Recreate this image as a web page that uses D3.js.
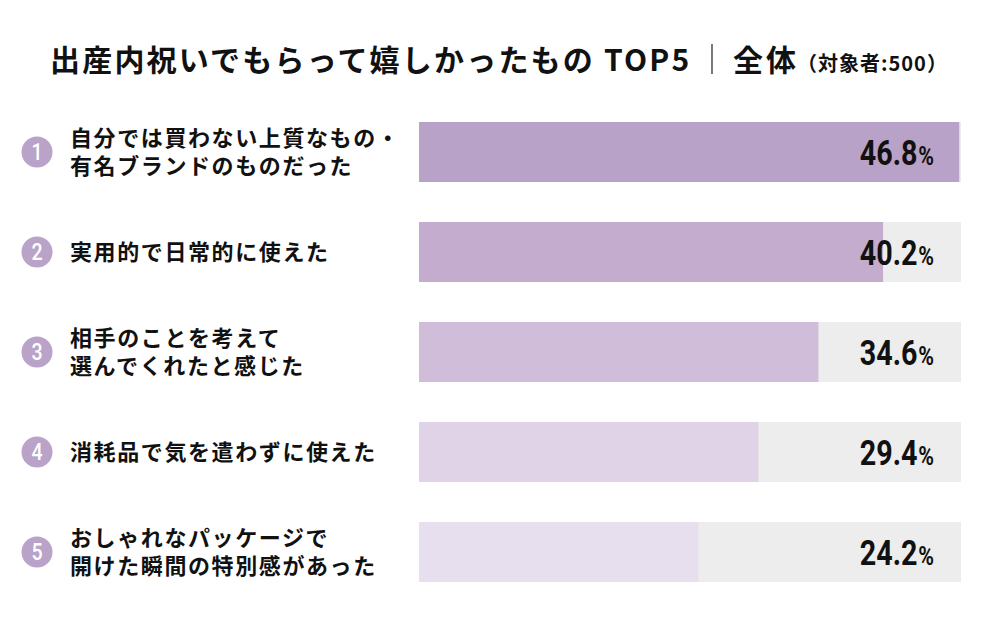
<!DOCTYPE html>
<html>
<head>
<meta charset="utf-8">
<script src="https://cdn.jsdelivr.net/npm/d3@7"></script>
<style>
  html, body { margin: 0; padding: 0; background: #fff; }
  svg { display: block; font-family: "Noto Sans CJK JP", "Noto Sans", sans-serif; }
</style>
</head>
<body>
<svg id="chart"></svg>
<script>
const ranks = [1, 2, 3, 4, 5];
const labels = [
	['自分では買わない上質なもの・', '有名ブランドのものだった'],
	['実用的で日常的に使えた'],
	['相手のことを考えて', '選んでくれたと感じた'],
	['消耗品で気を遣わずに使えた'],
	['おしゃれなパッケージで', '開けた瞬間の特別感があった']
];
const values = [46.8, 40.2, 34.6, 29.4, 24.2];
const barColors = ['#b9a2c8', '#c4accf', '#cfbdda', '#e0d3e7', '#e8dfee'];

const W = 1000, H = 619;
const svg = d3.select('#chart').attr('width', W).attr('height', H);

// title
svg.append('text')
	.attr('x', 50)
	.attr('y', 71)
	.attr('font-weight', 700)
	.attr('font-size', 30)
	.attr('letter-spacing', 2.2)
	.attr('fill', '#111')
	.text('出産内祝いでもらって嬉しかったもの TOP5');
svg.append('line')
	.attr('x1', 712).attr('x2', 712)
	.attr('y1', 44).attr('y2', 74)
	.attr('stroke', '#222').attr('stroke-width', 1.2);
svg.append('text')
	.attr('x', 733).attr('y', 71)
	.attr('font-weight', 700).attr('fill', '#111')
	.call(t => {
		t.append('tspan').attr('font-size', 30).attr('letter-spacing', 3).text('全体');
		t.append('tspan').attr('font-size', 20).attr('letter-spacing', 1).attr('dx', -2).text('（対象者:500）');
	});

// scale max a hair above the top value so the first bar nearly fills the track
const x = d3.scaleLinear().domain([0, 46.95]).range([419, 961]);
const y = d3.scaleBand().domain(ranks).range([122, 582]).paddingInner(0.4).paddingOuter(0);

const rows = svg.selectAll('g.row')
	.data(ranks.map((r, i) => ({ rank: r, label: labels[i], value: values[i], color: barColors[i] })))
	.join('g')
	.attr('class', 'row');

rows.append('rect')
	.attr('x', x(0))
	.attr('y', d => y(d.rank))
	.attr('width', x.range()[1] - x(0))
	.attr('height', y.bandwidth())
	.attr('fill', '#ededed');

rows.append('rect')
	.attr('x', x(0))
	.attr('y', d => y(d.rank))
	.attr('width', d => Math.min(x(d.value), x.range()[1]) - x(0))
	.attr('height', y.bandwidth())
	.attr('fill', d => d.color);

const cy = d => y(d.rank) + y.bandwidth() / 2;

rows.append('circle')
	.attr('cx', 37)
	.attr('cy', cy)
	.attr('r', 15.5)
	.attr('fill', '#b9a3c9');

rows.append('g')
	.attr('transform', d => `translate(37,${cy(d) + 8}) scale(0.85,1)`)
	.append('text')
	.attr('text-anchor', 'middle')
	.attr('font-family', 'Roboto, sans-serif')
	.attr('font-weight', 500)
	.attr('font-size', 23)
	.attr('fill', '#fff')
	.text(d => d.rank);

rows.append('text')
	.attr('font-weight', 700)
	.attr('font-size', 22)
	.attr('letter-spacing', 1.6)
	.attr('fill', '#111')
	.each(function (d) {
		const t = d3.select(this);
		const n = d.label.length;
		d.label.forEach((line, i) => {
			t.append('tspan')
				.attr('x', 70)
				.attr('y', cy(d) + 8 + (i - (n - 1) / 2) * 28)
				.text(line);
		});
	});

rows.append('g')
	.attr('transform', d => `translate(934,${cy(d) + 13}) scale(0.82,1)`)
	.append('text')
	.attr('text-anchor', 'end')
	.attr('font-family', 'Roboto, sans-serif')
	.attr('font-weight', 700)
	.attr('fill', '#111')
	.call(t => {
		t.append('tspan').attr('font-size', 35).text(d => d.value.toFixed(1));
		t.append('tspan').attr('font-size', 26).attr('dx', 1).text('%');
	});
</script>
</body>
</html>
